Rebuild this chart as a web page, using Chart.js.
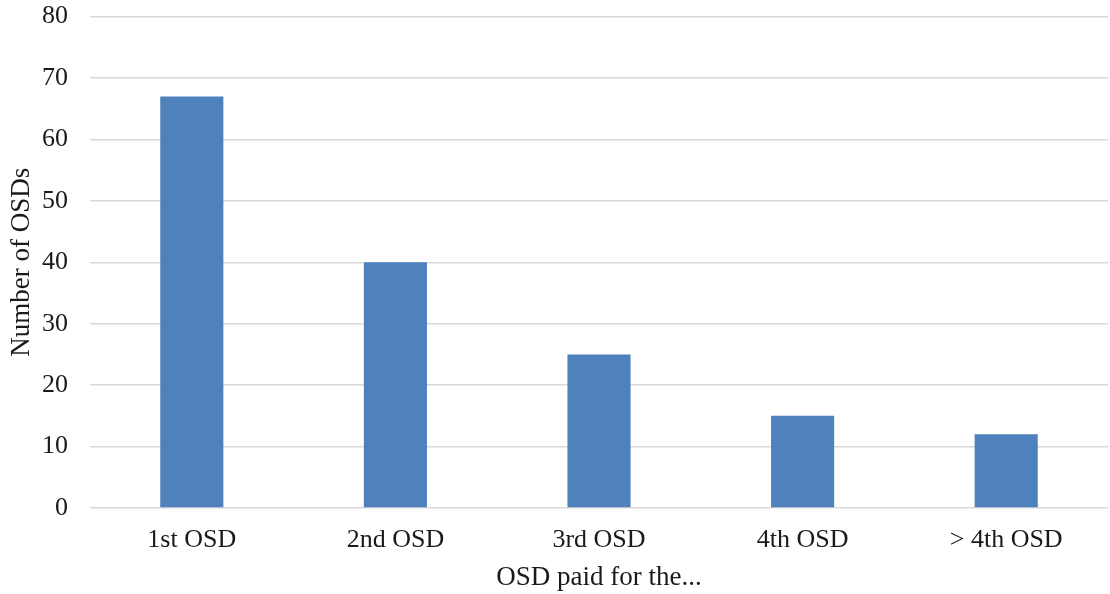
<!DOCTYPE html>
<html>
<head>
<meta charset="utf-8">
<script src="https://cdn.jsdelivr.net/npm/chart.js@4"></script>
<style>
html,body{margin:0;padding:0;background:#fff;}
#wrap{width:1110px;height:594px;position:relative;overflow:hidden;}
#inner{position:absolute;left:0;top:-21px;width:1110px;height:615px;}
</style>
</head>
<body>
<div id="wrap"><div id="inner"><canvas id="c"></canvas></div></div>
<script>
const categories = ["1st OSD", "2nd OSD", "3rd OSD", "4th OSD", "> 4th OSD"];
const osdCounts = [67, 40, 25, 15, 12];
const yTicks = [0, 10, 20, 30, 40, 50, 60, 70, 80];

const tickFont = {family: "'Liberation Serif', 'Times New Roman', serif", size: 26};
const titleFont = {family: "'Liberation Serif', 'Times New Roman', serif", size: 27};

new Chart(document.getElementById('c'), {
  type: 'bar',
  data: {
    labels: categories,
    datasets: [{
      data: osdCounts,
      backgroundColor: '#4F81BD',
      borderWidth: 0,
      categoryPercentage: 1,
      barPercentage: 0.31
    }]
  },
  options: {
    responsive: true,
    maintainAspectRatio: false,
    animation: false,
    layout: {padding: {top: 0, right: 2, left: 0, bottom: 0}},
    plugins: {legend: {display: false}, tooltip: {enabled: false}},
    scales: {
      x: {
        grid: {display: false, drawTicks: false},
        border: {display: false},
        ticks: {font: tickFont, color: '#1a1a1a', padding: 17},
        title: {display: true, text: 'OSD paid for the...', font: titleFont, color: '#1a1a1a', padding: {top: 4, bottom: 0}},
        afterFit: s => { s.height = 86; }
      },
      y: {
        min: 0, max: 80,
        afterBuildTicks: s => { s.ticks = yTicks.map(v => ({value: v})); },
        grid: {color: '#d9d9d9', lineWidth: 1.5, drawTicks: false},
        border: {display: false},
        ticks: {font: tickFont, color: '#1a1a1a', padding: 22},
        title: {display: true, text: 'Number of OSDs', font: titleFont, color: '#1a1a1a', padding: {top: 6, bottom: 0}},
        afterFit: s => { s.width = 90; }
      }
    }
  }
});
</script>
</body>
</html>
